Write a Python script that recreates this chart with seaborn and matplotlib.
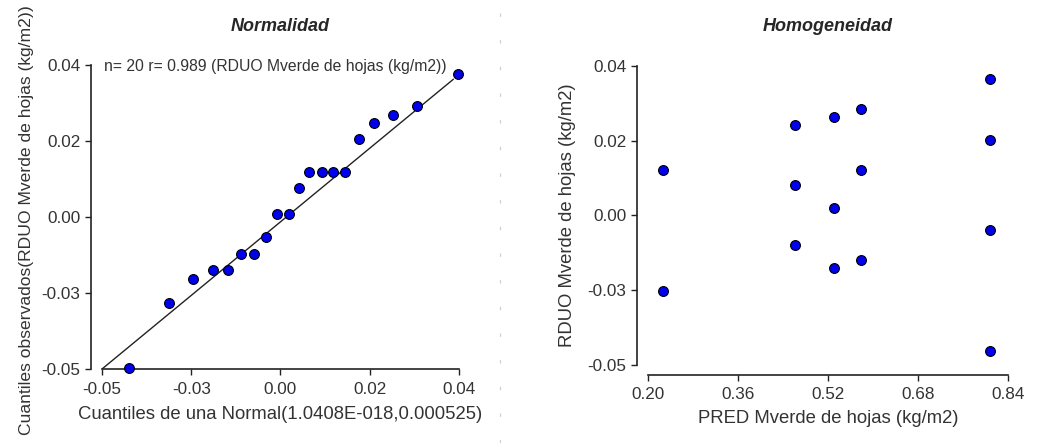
import numpy as np
import pandas as pd
import matplotlib
matplotlib.use("Agg")
import matplotlib.pyplot as plt
import seaborn as sns

# QQ plot (Normalidad): theoretical vs observed quantiles
qq_teo = [-0.0431, -0.0330, -0.0270, -0.0221, -0.0183, -0.0150, -0.0116, -0.0086,
          -0.0059, -0.0029, -0.0004, 0.0023, 0.0054, 0.0083, 0.0113, 0.0147,
          0.0187, 0.0233, 0.0293, 0.0398]
qq_obs = [-0.0498, -0.0304, -0.0233, -0.0207, -0.0207, -0.0158, -0.0158, -0.0110,
          -0.0040, -0.0040, 0.0035, 0.0083, 0.0083, 0.0083, 0.0083, 0.0180,
          0.0229, 0.0251, 0.0278, 0.0374]
# reference line of the QQ plot (end points)
qq_line_x = [-0.05, 0.0386]
qq_line_y = [-0.05, 0.0358]

# residuals vs predicted (Homogeneidad)
pred = [0.2272, 0.2272, 0.4619, 0.4619, 0.4619, 0.5307, 0.5307, 0.5307,
        0.5781, 0.5781, 0.5781, 0.808, 0.808, 0.808, 0.808]
rduo = [0.0087, -0.0276, 0.0223, 0.0042, -0.0140, 0.0247, -0.0026, -0.0207,
        0.0270, 0.0087, -0.0184, 0.0360, 0.0178, -0.0095, -0.0457]

y_ticks = [-0.05, -0.0275, -0.005, 0.0175, 0.04]
y_ticklabels = ["-0.05", "-0.03", "0.00", "0.02", "0.04"]
x1_ticks = [-0.05, -0.0275, -0.005, 0.0175, 0.04]
x1_ticklabels = ["-0.05", "-0.03", "0.00", "0.02", "0.04"]
x2_ticks = [0.20, 0.36, 0.52, 0.68, 0.84]
x2_ticklabels = ["0.20", "0.36", "0.52", "0.68", "0.84"]

sns.set_style("ticks")
plt.rcParams['font.family'] = ['Liberation Sans', 'DejaVu Sans']

fig = plt.figure(figsize=(10.45, 4.43), dpi=100)
ax1 = fig.add_axes([0.0976, 0.1670, 0.3416, 0.6862])
ax2 = fig.add_axes([0.6201, 0.1761, 0.3445, 0.6749])

pt_kw = dict(color="#0000ee", edgecolor="black", linewidth=0.8, s=50, clip_on=False, zorder=3)
txt_col = "#333333"
lab_fs = 13.3
tick_fs = 12.3
title_fs = 13

# left panel
df_qq = pd.DataFrame({"teo": qq_teo, "obs": qq_obs})
sns.lineplot(x=qq_line_x, y=qq_line_y, ax=ax1, color="#222222", linewidth=1.0)
sns.scatterplot(data=df_qq, x="teo", y="obs", ax=ax1, **pt_kw)
ax1.text(-0.0495, 0.0395, "n= 20 r= 0.989 (RDUO Mverde de hojas (kg/m2))",
         fontsize=11.3, color=txt_col, va="center")
ax1.set_xlim(-0.05, 0.04)
ax1.set_ylim(-0.05, 0.04)
ax1.set_xticks(x1_ticks, x1_ticklabels)
ax1.set_yticks(y_ticks, y_ticklabels)
ax1.set_xlabel("Cuantiles de una Normal(1.0408E-018,0.000525)", fontsize=lab_fs, color=txt_col)
# long label: slightly smaller so it fits the figure height
ax1.set_ylabel("Cuantiles observados(RDUO Mverde de hojas (kg/m2))", fontsize=12.6, color=txt_col)
ax1.xaxis.set_label_coords(0.5, -0.122)
ax1.yaxis.set_label_coords(-0.19, 0.49)
ax1.set_title("Normalidad", fontsize=title_fs, fontweight="bold", fontstyle="italic", pad=24.5)
ax1.spines["left"].set_position(("outward", 7.9))

# right panel
df_h = pd.DataFrame({"pred": pred, "rduo": rduo})
sns.scatterplot(data=df_h, x="pred", y="rduo", ax=ax2, **pt_kw)
ax2.set_xlim(0.20, 0.84)
ax2.set_ylim(-0.05, 0.04)
ax2.set_xticks(x2_ticks, x2_ticklabels)
ax2.set_yticks(y_ticks, y_ticklabels)
ax2.set_xlabel("PRED Mverde de hojas (kg/m2)", fontsize=lab_fs, color=txt_col)
ax2.set_ylabel("RDUO Mverde de hojas (kg/m2)", fontsize=lab_fs, color=txt_col)
ax2.xaxis.set_label_coords(0.5, -0.152)
ax2.yaxis.set_label_coords(-0.20, 0.50)
ax2.set_title("Homogeneidad", fontsize=title_fs, fontweight="bold", fontstyle="italic", pad=25)
ax2.spines["left"].set_position(("outward", 7.9))
ax2.spines["bottom"].set_position(("outward", 7.2))

for ax in (ax1, ax2):
    sns.despine(ax=ax)
    for sp in ("left", "bottom"):
        ax.spines[sp].set_linewidth(1.2)
        ax.spines[sp].set_color("#222222")
    ax.tick_params(labelsize=tick_fs, labelcolor=txt_col, length=4, width=1.0, color="#222222")
    ax.tick_params(axis="x", pad=5)

# dashed separator between panels
fig.add_artist(plt.Line2D([500 / 1045, 500 / 1045], [0, 1], color="#cccccc",
                          linewidth=0.8, linestyle=(0, (3, 21))))

fig.savefig("out.png", dpi=100)
